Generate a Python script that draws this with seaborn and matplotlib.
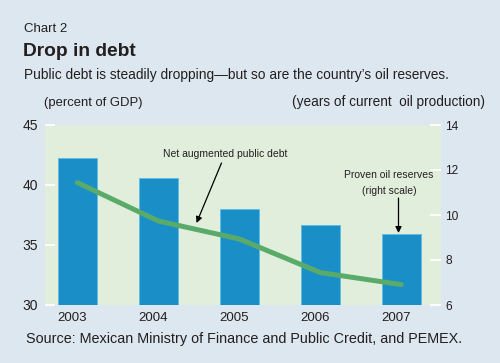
import matplotlib
matplotlib.use("Agg")
import matplotlib.pyplot as plt
import matplotlib.transforms as mtransforms
import seaborn as sns

years = ["2003", "2004", "2005", "2006", "2007"]
debt = [40.2, 37.0, 35.5, 32.7, 31.7]          # net augmented public debt, % of GDP (left)
reserves = [12.55, 11.65, 10.25, 9.55, 9.15]   # proven oil reserves, years (right)

FIG_BG = "#dde7ef"
PLOT_BG = "#e1eedb"
BAR = "#1a8fc7"
LINE = "#5aab6a"
TXT = "#231f20"

NARROW = ["Liberation Sans Narrow", "Liberation Sans", "DejaVu Sans"]
REG = ["Liberation Sans", "DejaVu Sans"]

sns.set_theme(style="white")
plt.rcParams["font.family"] = REG

W, H = 500, 363
fig = plt.figure(figsize=(W / 100, H / 100), dpi=100, facecolor=FIG_BG)


def fx(x):
    return x / W


def fy(y):
    return 1 - y / H


ax = fig.add_axes([fx(45), fy(305), fx(441) - fx(45), fy(125) - fy(305)])
ax2 = ax.twinx()
ax.set_zorder(ax2.get_zorder() + 1)
ax.patch.set_visible(False)
ax2.patch.set_visible(True)
ax2.set_facecolor(PLOT_BG)

sns.lineplot(x=years, y=debt, ax=ax, color=LINE, linewidth=3.6, sort=False)
sns.barplot(x=years, y=reserves, ax=ax2, color=BAR, saturation=1, width=0.48,
            edgecolor="#62bde6", linewidth=0.7)

ax.set_ylim(30, 45)
ax.set_yticks([30, 35, 40, 45])
ax2.set_ylim(6, 14)
ax2.set_yticks([6, 8, 10, 12, 14])
ax.set_xlim(-0.4, 4.49)

for a in (ax, ax2):
    a.set_xlabel("")
    a.set_ylabel("")
    for s in a.spines.values():
        s.set_visible(False)

ax.tick_params(axis="y", direction="in", length=7, width=1.3, color="white",
               labelsize=10, labelcolor=TXT, pad=5, left=True)
ax.tick_params(axis="x", length=0, labelsize=9.5, labelcolor=TXT, pad=5)
ax2.tick_params(axis="y", direction="in", length=8, width=1.3, color="white",
                labelsize=8.6, labelcolor=TXT, pad=3, right=True)

# year labels sit a little left of the bar centres in the original
shift = mtransforms.ScaledTranslation(-5 / 100, 0, fig.dpi_scale_trans)
for lbl in ax.get_xticklabels():
    lbl.set_transform(lbl.get_transform() + shift)

# titles
fig.text(fx(24), fy(32), "Chart 2", fontsize=9.5, color=TXT, va="baseline",
         family=NARROW)
fig.text(fx(23), fy(56), "Drop in debt", fontsize=13.8, fontweight="bold",
         color=TXT, va="baseline", family=NARROW)
fig.text(fx(24), fy(79), "Public debt is steadily dropping\u2014but so are the country\u2019s oil reserves.",
         fontsize=9.9, color=TXT, va="baseline", family=NARROW)
fig.text(fx(44), fy(106), "(percent of GDP)", fontsize=9.4, color=TXT,
         va="baseline", family=NARROW)
fig.text(fx(292), fy(106), "(years of current  oil production)", fontsize=9.8,
         color=TXT, va="baseline", family=NARROW)
fig.text(fx(26), fy(343), "Source: Mexican Ministry of Finance and Public Credit, and PEMEX.",
         fontsize=10.4, color=TXT, va="baseline", family=REG)

# annotations
fig.text(fx(225), fy(156.5), "Net augmented public debt", ha="center",
         va="baseline", fontsize=7.5, color=TXT, family=NARROW)
ax.annotate("", xy=(fx(196.5), fy(223)), xycoords="figure fraction",
            xytext=(fx(221.5), fy(163)), textcoords="figure fraction",
            arrowprops=dict(arrowstyle="-|>", color="black", lw=0.9,
                            mutation_scale=9, shrinkA=0, shrinkB=0),
            annotation_clip=False)
ax.annotate("", xy=(fx(398.5), fy(233)), xycoords="figure fraction",
            xytext=(fx(398.5), fy(198)), textcoords="figure fraction",
            arrowprops=dict(arrowstyle="-|>", color="black", lw=0.9,
                            mutation_scale=9, shrinkA=0, shrinkB=0),
            annotation_clip=False)
fig.text(fx(389), fy(178.5), "Proven oil reserves", ha="center", va="baseline",
         fontsize=7.5, color=TXT, family=NARROW)
fig.text(fx(389), fy(193.5), "(right scale)", ha="center", va="baseline",
         fontsize=7.5, color=TXT, family=NARROW)

fig.savefig("out.png", dpi=100, facecolor=FIG_BG)
